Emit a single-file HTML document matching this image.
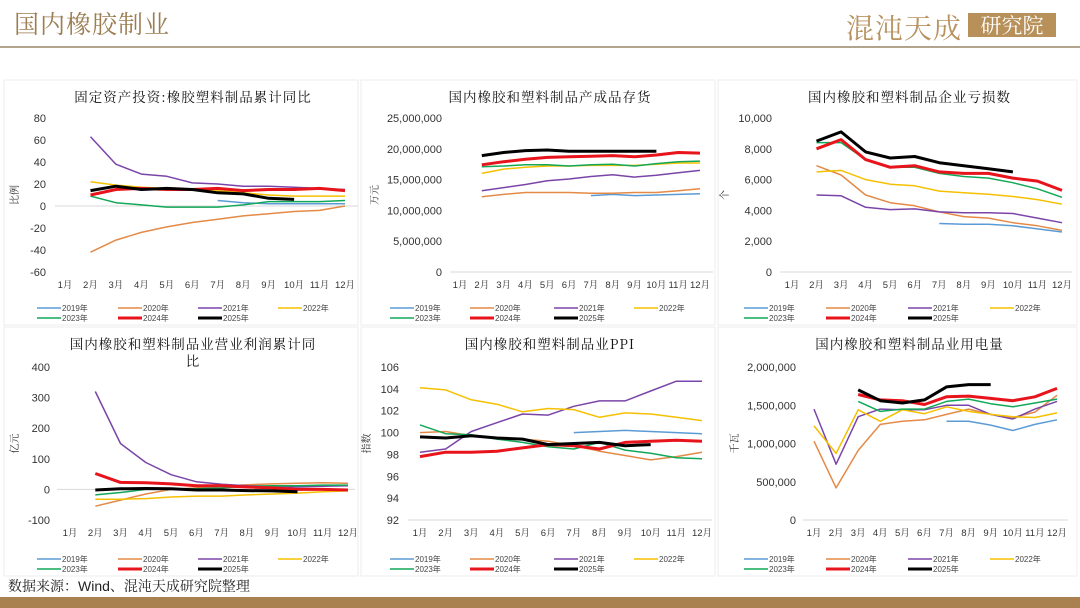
<!DOCTYPE html>
<html><head><meta charset="utf-8">
<style>
body{margin:0;width:1080px;height:608px;background:#fff;overflow:hidden;position:relative;font-family:"Liberation Sans","Noto Sans CJK SC",sans-serif;}
.hdr{position:absolute;left:14px;top:5px;font-size:25px;color:#9c7d52;font-family:"Noto Serif CJK SC","Noto Sans CJK SC",serif;letter-spacing:1px}
.rule{position:absolute;left:0;top:46px;width:1080px;height:2px;background:#b3a48e}
.logo{position:absolute;left:846px;top:7px;font-size:28px;color:#b89360;font-family:"Noto Serif CJK SC",serif;letter-spacing:1px}
.logobox{position:absolute;left:968px;top:13px;width:88px;height:24px;background:#b8915a;color:#fff;font-size:21px;text-align:center;line-height:24px;font-family:"Noto Serif CJK SC",serif}
.src{position:absolute;left:8px;top:576px;font-size:14px;color:#222;font-family:"Liberation Sans","Noto Serif CJK SC",serif}
.band{position:absolute;left:0;top:597px;width:1080px;height:11px;background:#a98050}
svg{position:absolute;left:0;top:0}
</style></head><body>
<div class="hdr">国内橡胶制业</div>
<div class="rule"></div>
<div class="logo">混沌天成</div>
<div class="logobox">研究院</div>
<svg id="s" width="1080" height="608"></svg>
<div class="src">数据来源：Wind、混沌天成研究院整理</div>
<div class="band"></div>
<script>
const months=["1月","2月","3月","4月","5月","6月","7月","8月","9月","10月","11月","12月"];
const years=["2019年","2020年","2021年","2022年","2023年","2024年","2025年"];
const _=null;
// Panel 1: fixed asset investment YoY
const p1_2019=[_,_,_,_,_,_,5,3,2,2,2,2];
const p1_2020=[_,-42,-31,-24,-19,-15,-12,-9,-7,-5,-4,0];
const p1_2021=[_,63,38,29,27,21,20,18,18,17,16,15];
const p1_2022=[_,22,19,17,16,15,14,12,10,9,9,9];
const p1_2023=[_,9,3,1,-1,-1,-1,1,4,4,4,5];
const p1_2024=[_,10,15,16,15,15,16,14,15,15,16,14];
const p1_2025=[_,14,18,15,16,15,12,11,7,6,_,_];
const p1_ticks=[80,60,40,20,0,-20,-40,-60];
// Panel 2: inventory
const p2_2019=[_,_,_,_,_,_,12.4e6,12.6e6,12.4e6,12.5e6,12.6e6,12.7e6];
const p2_2020=[_,12.2e6,12.6e6,12.9e6,12.9e6,12.9e6,12.8e6,12.8e6,12.9e6,12.9e6,13.2e6,13.5e6];
const p2_2021=[_,13.2e6,13.7e6,14.2e6,14.8e6,15.1e6,15.5e6,15.8e6,15.4e6,15.7e6,16.1e6,16.5e6];
const p2_2022=[_,16.0e6,16.7e6,17.0e6,17.2e6,17.2e6,17.3e6,17.3e6,17.3e6,17.5e6,17.7e6,17.7e6];
const p2_2023=[_,17.1e6,17.2e6,17.4e6,17.4e6,17.2e6,17.4e6,17.5e6,17.2e6,17.6e6,17.9e6,18.0e6];
const p2_2024=[_,17.4e6,17.9e6,18.3e6,18.6e6,18.7e6,18.8e6,18.9e6,18.7e6,19.0e6,19.4e6,19.3e6];
const p2_2025=[_,18.9e6,19.4e6,19.7e6,19.8e6,19.6e6,19.6e6,19.6e6,19.6e6,19.6e6,_,_];
const p2_ticks=[25e6,20e6,15e6,10e6,5e6,0];
// Panel 3: loss-making firms
const p3_2019=[_,_,_,_,_,_,3150,3100,3100,3000,2800,2600];
const p3_2020=[_,6900,6300,5000,4500,4300,3900,3600,3500,3200,3000,2700];
const p3_2021=[_,5000,4950,4200,4050,4100,3900,3850,3850,3800,3500,3200];
const p3_2022=[_,6500,6600,6000,5700,5600,5250,5150,5050,4900,4700,4400];
const p3_2023=[_,8400,8400,7300,6800,6800,6400,6200,6100,5800,5400,4850];
const p3_2024=[_,8000,8600,7300,6800,6900,6500,6400,6400,6100,5900,5300];
const p3_2025=[_,8500,9100,7800,7400,7500,7100,6900,6700,6500,_,_];
const p3_ticks=[10000,8000,6000,4000,2000,0];
// Panel 4: profit YoY
const p4_2019=[_,_,_,_,_,_,12,10,10,10,12,12];
const p4_2020=[_,-55,-35,-15,0,5,10,15,18,20,22,20];
const p4_2021=[_,320,150,88,48,25,17,12,10,8,10,12];
const p4_2022=[_,-32,-32,-30,-25,-22,-22,-18,-15,-12,-8,-5];
const p4_2023=[_,-18,-10,0,0,2,5,10,12,12,14,14];
const p4_2024=[_,52,23,22,18,12,12,8,5,0,0,-2];
const p4_2025=[_,-2,2,3,2,-2,-2,-4,-5,-8,_,_];
const p4_ticks=[400,300,200,100,0,-100];
// Panel 5: PPI
const p5_2019=[_,_,_,_,_,_,100,100.1,100.2,100.1,100,99.9];
const p5_2020=[100,100.1,99.7,99.5,99.4,99.2,98.8,98.3,97.9,97.5,97.8,98.2];
const p5_2021=[98.2,98.5,100.1,100.9,101.7,101.6,102.4,102.9,102.9,103.8,104.7,104.7];
const p5_2022=[104.1,103.9,103,102.6,101.9,102.2,102.1,101.4,101.8,101.7,101.4,101.1];
const p5_2023=[100.7,99.9,99.8,99.4,99.1,98.7,98.5,99.1,98.4,98.1,97.7,97.6];
const p5_2024=[97.8,98.2,98.2,98.3,98.6,98.9,98.8,98.5,99.1,99.2,99.3,99.2];
const p5_2025=[99.6,99.5,99.7,99.5,99.4,98.9,99,99.1,98.8,98.9,_,_];
const p5_ticks=[106,104,102,100,98,96,94,92];
// Panel 6: electricity
const p6_2019=[_,_,_,_,_,_,1.29e6,1.29e6,1.24e6,1.17e6,1.25e6,1.31e6];
const p6_2020=[1.03e6,0.42e6,0.91e6,1.25e6,1.29e6,1.31e6,1.38e6,1.45e6,1.38e6,1.34e6,1.41e6,1.63e6];
const p6_2021=[1.45e6,0.73e6,1.35e6,1.45e6,1.44e6,1.44e6,1.50e6,1.50e6,1.38e6,1.32e6,1.45e6,1.55e6];
const p6_2022=[1.23e6,0.87e6,1.44e6,1.29e6,1.44e6,1.39e6,1.48e6,1.42e6,1.38e6,1.35e6,1.34e6,1.40e6];
const p6_2023=[_,_,1.55e6,1.42e6,1.45e6,1.45e6,1.55e6,1.58e6,1.52e6,1.48e6,1.53e6,1.58e6];
const p6_2024=[_,_,1.64e6,1.57e6,1.56e6,1.51e6,1.61e6,1.62e6,1.59e6,1.56e6,1.61e6,1.72e6];
const p6_2025=[_,_,1.70e6,1.56e6,1.53e6,1.57e6,1.74e6,1.77e6,1.77e6,_,_,_];
const p6_ticks=[2e6,1.5e6,1e6,5e5,0];

const colors=["#5b9bd5","#e48a46","#7a45a8","#f5c000","#12a858","#e8141b","#000"];
const widths=[1.5,1.5,1.5,1.5,1.5,3,3];
const NS="http://www.w3.org/2000/svg";
const svg=document.getElementById("s");
function mk(t,a,p){const e=document.createElementNS(NS,t);for(const k in a)e.setAttribute(k,a[k]);(p||svg).appendChild(e);return e;}
const fmt=v=>v.toLocaleString("en-US");

const panels=[
 {bx:4,by:80,bw:354,bh:245,title:["固定资产投资:橡胶塑料制品累计同比"],ytitle:"比例",series:[p1_2019,p1_2020,p1_2021,p1_2022,p1_2023,p1_2024,p1_2025],ticks:p1_ticks,ymax:80,ymin:-60,yTop:118,yBot:272,x1:65,x12:345,labR:46,axisVal:0,axL:55,axR:358,ytx:18,legOff:[37,118,198,278]},
 {bx:361,by:80,bw:354,bh:245,title:["国内橡胶和塑料制品产成品存货"],ytitle:"万元",series:[p2_2019,p2_2020,p2_2021,p2_2022,p2_2023,p2_2024,p2_2025],ticks:p2_ticks,ymax:25e6,ymin:0,yTop:118,yBot:272,x1:460,x12:700,labR:442,axisVal:0,axL:450,axR:713,ytx:378,legOff:[33,113,197,277]},
 {bx:718,by:80,bw:359,bh:245,title:["国内橡胶和塑料制品企业亏损数"],ytitle:"个",series:[p3_2019,p3_2020,p3_2021,p3_2022,p3_2023,p3_2024,p3_2025],ticks:p3_ticks,ymax:10000,ymin:0,yTop:118,yBot:272,x1:792,x12:1062,labR:772,axisVal:0,axL:780,axR:1072,ytx:728,legOff:[30,112,194,276]},
 {bx:4,by:327,bw:354,bh:249,title:["国内橡胶和塑料制品业营业利润累计同","比"],ytitle:"亿元",series:[p4_2019,p4_2020,p4_2021,p4_2022,p4_2023,p4_2024,p4_2025],ticks:p4_ticks,ymax:400,ymin:-100,yTop:367,yBot:520,x1:70,x12:348,labR:50,axisVal:0,axL:57,axR:355,ytx:18,legOff:[37,118,198,278]},
 {bx:361,by:327,bw:354,bh:249,title:["国内橡胶和塑料制品业PPI"],ytitle:"指数",series:[p5_2019,p5_2020,p5_2021,p5_2022,p5_2023,p5_2024,p5_2025],ticks:p5_ticks,ymax:106,ymin:92,yTop:367,yBot:520,x1:420,x12:702,labR:399,axisVal:92,axL:408,axR:712,ytx:370,legOff:[33,113,197,277]},
 {bx:718,by:327,bw:359,bh:249,title:["国内橡胶和塑料制品业用电量"],ytitle:"千瓦",series:[p6_2019,p6_2020,p6_2021,p6_2022,p6_2023,p6_2024,p6_2025],ticks:p6_ticks,ymax:2e6,ymin:0,yTop:367,yBot:520,x1:814,x12:1057,labR:796,axisVal:0,axL:803,axR:1068,ytx:738,legOff:[30,112,194,276]}
];

panels.forEach((P,pi)=>{
 const g=mk("g",{});
 
 
 const box=mk("rect",{x:P.bx,y:P.by,width:P.bw,height:P.bh,fill:"#fff",stroke:"#ececec","stroke-width":1},g);
 
 
 const cx=P.bx+P.bw/2+12;
 P.title.forEach((t,i)=>{
  const te=mk("text",{x:cx,y:P.by+22+i*17,"text-anchor":"middle","font-size":13.5,fill:"#111","font-family":"'Noto Serif CJK SC','Noto Sans CJK SC',serif","letter-spacing":"1"},g);
  te.textContent=t;
  
  
 });
 const ys=v=>P.yTop+(P.ymax-v)/(P.ymax-P.ymin)*(P.yBot-P.yTop);
 const xs=i=>P.x1+i*(P.x12-P.x1)/11;
 P.ticks.forEach(t=>{
  const te=mk("text",{x:P.labR,y:ys(t)+4,"text-anchor":"end","font-size":11,fill:"#333"},g);
  te.textContent=fmt(t);
  
  
 });
 const ax=mk("line",{x1:P.axL,x2:P.axR,y1:ys(P.axisVal),y2:ys(P.axisVal),stroke:"#d9d9d9","stroke-width":1},g);
 
 
 const yt=mk("text",{x:P.ytx,y:(P.yTop+P.yBot)/2,"text-anchor":"middle","font-size":10,fill:"#333",transform:`rotate(-90 ${P.ytx} ${(P.yTop+P.yBot)/2})`,"font-family":"'Noto Serif CJK SC',serif"},g);
 yt.textContent=P.ytitle;
 
 
 const ly=P.yBot+16;
 months.forEach((m,i)=>{
  const te=mk("text",{x:xs(i),y:ly,"text-anchor":"middle","font-size":9.5,fill:"#333","font-family":"'Liberation Sans','Noto Serif CJK SC',serif"},g);
  te.textContent=m;
  
  
 });
 P.series.forEach((s,si)=>{
  let d="",pen=false;
  s.forEach((v,i)=>{if(v===null){pen=false;return;}d+=(pen?"L":"M")+xs(i).toFixed(1)+","+ys(v).toFixed(1);pen=true;});
  const pth=mk("path",{d:d,fill:"none",stroke:colors[si],"stroke-width":widths[si],"stroke-linejoin":"round"},g);
  
  
 });
 const legY=P.by+P.bh-17;
 years.forEach((y,si)=>{
  const row=si<4?0:1, col=si<4?si:si-4;
  const lx=P.bx+P.legOff[col]-4, yy=legY+row*10;
  const lg=mk("g",{},g);
  
  
  mk("line",{x1:lx,x2:lx+24,y1:yy,y2:yy,stroke:colors[si],"stroke-width":widths[si]},lg);
  const te=mk("text",{x:lx+25,y:yy+3,"font-size":8,fill:"#444"},lg);
  te.textContent=y;
 });
});
</script>
</body></html>
